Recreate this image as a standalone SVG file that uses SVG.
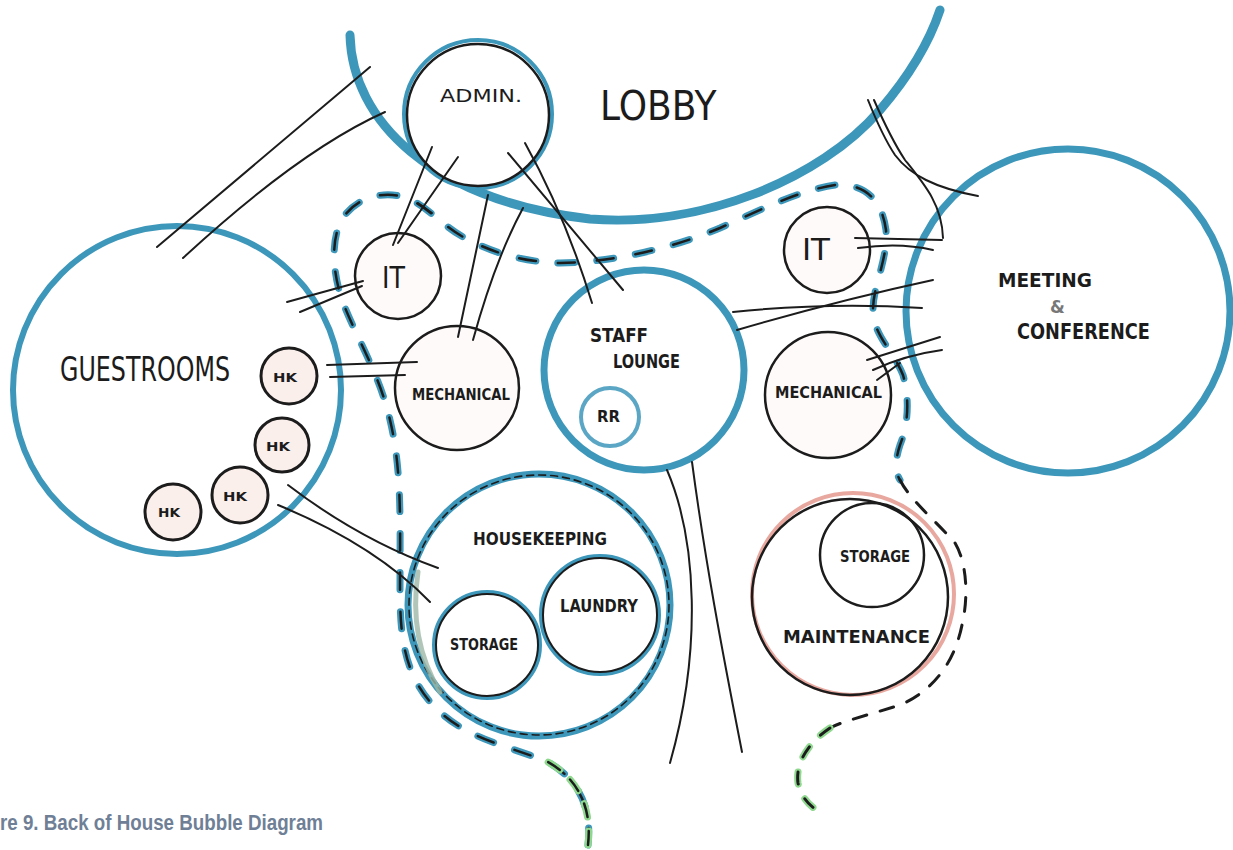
<svg xmlns="http://www.w3.org/2000/svg" width="1233" height="850" viewBox="0 0 1233 850">
<defs>
<style>
.blue{fill:none;stroke:#3d97ba;stroke-linecap:round}
.ink{fill:none;stroke:#1c1c1c;stroke-linecap:round}
.bub{fill:#fefaf9;stroke:#1c1c1c;stroke-width:2.5}
.hk{fill:#fbefeb;stroke:#1c1c1c;stroke-width:3}
.pen{font-family:"DejaVu Sans",sans-serif;fill:#1c1c1c;font-weight:normal}
.mk{font-family:"DejaVu Sans",sans-serif;fill:#1c1c1c;font-weight:bold}
.con path{fill:none;stroke:#1c1c1c;stroke-width:2;stroke-linecap:round}
</style>
</defs>
<rect width="1233" height="850" fill="#ffffff"/>

<g id="zones">
<path class="blue" stroke-width="7" stroke-dasharray="17 22" d="M588,845 C592,810 580,780 548,762 C515,748 470,740 440,712 C405,680 400,640 400,590 C400,520 402,470 390,420 C380,375 355,335 342,300 C332,270 330,235 345,215 C358,198 380,192 400,196 C425,202 440,225 465,238 C495,254 525,262 560,263 C620,262 680,245 720,228 C760,210 800,190 835,185 C865,183 882,200 886,230 C888,260 873,285 873,310 C873,335 893,350 903,375 C910,400 908,425 900,445 C895,460 895,472 900,480"/>
<path class="ink" stroke-width="2.5" stroke-dasharray="17 22" d="M588,845 C592,810 580,780 548,762 C515,748 470,740 440,712 C405,680 400,640 400,590 C400,520 402,470 390,420 C380,375 355,335 342,300 C332,270 330,235 345,215 C358,198 380,192 400,196 C425,202 440,225 465,238 C495,254 525,262 560,263 C620,262 680,245 720,228 C760,210 800,190 835,185 C865,183 882,200 886,230 C888,260 873,285 873,310 C873,335 893,350 903,375 C910,400 908,425 900,445 C895,460 895,472 900,480"/>
<path fill="none" stroke="#8fd98f" stroke-width="7" stroke-linecap="round" stroke-dasharray="14 14" d="M588,845 C592,810 580,780 548,762"/>
<path class="ink" stroke-width="2.5" stroke-dasharray="14 14" d="M588,845 C592,810 580,780 548,762"/>
<path class="ink" stroke-width="3" stroke-dasharray="14 14" d="M900,480 C910,500 935,520 955,543 C968,565 968,600 962,625 C955,660 935,690 900,705 C865,716 840,722 830,728"/>
<path fill="none" stroke="#8fd98f" stroke-width="7" stroke-linecap="round" stroke-dasharray="12 16" d="M830,728 C812,740 795,760 798,783 C802,800 812,808 822,813"/>
<path class="ink" stroke-width="3" stroke-dasharray="12 16" d="M830,728 C812,740 795,760 798,783 C802,800 812,808 822,813"/>
</g>

<g id="lobby">
<path class="blue" stroke-width="9" d="M350,35 C352,120 430,200 590,219 C700,228 820,180 880,110 C910,75 930,40 940,10"/>
<text class="pen" transform="translate(600,120) scale(0.9,1)" font-size="40">LOBBY</text>
</g>

<g id="admin">
<circle class="blue" cx="478" cy="114" r="74" stroke-width="4"/>
<circle cx="478" cy="115" r="71" fill="#ffffff" stroke="#1c1c1c" stroke-width="2.5"/>
<text class="pen" x="440" y="102" font-size="18" textLength="82" lengthAdjust="spacingAndGlyphs">ADMIN.</text>
</g>

<g id="guestrooms">
<circle class="blue" cx="177" cy="390" r="164" stroke-width="6"/>
<text class="pen" transform="translate(60,381) scale(0.7,1)" font-size="34">GUESTROOMS</text>
</g>
<g id="hk1"><circle class="hk" cx="289" cy="376" r="28"/><text class="mk" x="273" y="382" font-size="13" textLength="24" lengthAdjust="spacingAndGlyphs">HK</text></g>
<g id="hk2"><circle class="hk" cx="282" cy="445" r="27"/><text class="mk" x="266" y="451" font-size="13" textLength="24" lengthAdjust="spacingAndGlyphs">HK</text></g>
<g id="hk3"><circle class="hk" cx="240" cy="495" r="28"/><text class="mk" x="223" y="501" font-size="13" textLength="24" lengthAdjust="spacingAndGlyphs">HK</text></g>
<g id="hk4"><circle class="hk" cx="173" cy="512" r="28"/><text class="mk" x="158" y="517" font-size="13" textLength="22" lengthAdjust="spacingAndGlyphs">HK</text></g>

<g id="it-left"><circle class="bub" cx="398" cy="276" r="43"/><text class="pen" x="382" y="288" font-size="30" textLength="23" lengthAdjust="spacingAndGlyphs">IT</text></g>
<g id="mechanical-left"><circle class="bub" cx="457" cy="388" r="62"/><text class="mk" x="412" y="400" font-size="16" textLength="98" lengthAdjust="spacingAndGlyphs">MECHANICAL</text></g>

<g id="staff-lounge">
<circle class="blue" cx="644" cy="370" r="100" stroke-width="7"/>
<text class="mk" x="590" y="342" font-size="20" textLength="58" lengthAdjust="spacingAndGlyphs">STAFF</text>
<text class="mk" x="613" y="368" font-size="19" textLength="67" lengthAdjust="spacingAndGlyphs">LOUNGE</text>
</g>
<g id="rr">
<circle class="blue" cx="610" cy="417" r="29" stroke-width="4" opacity="0.85"/>
<text class="mk" x="597" y="422" font-size="16" textLength="23" lengthAdjust="spacingAndGlyphs">RR</text>
</g>

<g id="it-right"><circle class="bub" cx="827" cy="250" r="43"/><text class="pen" x="802" y="260" font-size="30" textLength="28" lengthAdjust="spacingAndGlyphs">IT</text></g>
<g id="mechanical-right"><circle class="bub" cx="828" cy="395" r="63"/><text class="mk" x="775" y="398" font-size="16" textLength="107" lengthAdjust="spacingAndGlyphs">MECHANICAL</text></g>

<g id="meeting">
<circle class="blue" cx="1068" cy="311" r="162" stroke-width="7"/>
<text class="mk" x="998" y="287" font-size="19" textLength="94" lengthAdjust="spacingAndGlyphs">MEETING</text>
<text class="mk" x="1050" y="313" font-size="17" style="fill:#777">&amp;</text>
<text class="mk" x="1017" y="339" font-size="21" textLength="133" lengthAdjust="spacingAndGlyphs">CONFERENCE</text>
</g>

<g id="housekeeping">
<circle class="blue" cx="539" cy="605" r="131" stroke-width="7"/>
<circle class="ink" cx="539" cy="605" r="130" stroke-width="1.6" stroke-dasharray="7 5"/>
<path fill="none" stroke="#9db8a6" stroke-width="5" stroke-linecap="round" opacity="0.8" d="M418,572 Q408,640 440,692"/>
<text class="mk" x="473" y="545" font-size="18" textLength="134" lengthAdjust="spacingAndGlyphs">HOUSEKEEPING</text>
</g>
<g id="storage-hk">
<circle class="blue" cx="487" cy="645" r="53" stroke-width="4"/>
<circle class="ink" cx="487" cy="645" r="51" stroke-width="2"/>
<text class="mk" x="450" y="650" font-size="16" textLength="68" lengthAdjust="spacingAndGlyphs">STORAGE</text>
</g>
<g id="laundry">
<circle class="blue" cx="600" cy="615" r="59" stroke-width="4"/>
<circle class="ink" cx="600" cy="615" r="57" stroke-width="2"/>
<text class="mk" x="560" y="612" font-size="17" textLength="78" lengthAdjust="spacingAndGlyphs">LAUNDRY</text>
</g>

<g id="maintenance">
<circle cx="853" cy="594" r="101" fill="none" stroke="#e8a89f" stroke-width="4"/>
<circle class="ink" cx="850" cy="597" r="98" stroke-width="2.5"/>
<text class="mk" x="783" y="643" font-size="17" textLength="147" lengthAdjust="spacingAndGlyphs">MAINTENANCE</text>
</g>
<g id="storage-maint">
<circle class="ink" cx="872" cy="555" r="52" stroke-width="2.5"/>
<text class="mk" x="840" y="562" font-size="16" textLength="70" lengthAdjust="spacingAndGlyphs">STORAGE</text>
</g>

<g id="connectors" class="con">
<path d="M157,247 L370,67"/>
<path d="M183,258 Q300,150 385,112"/>
<path d="M287,302 L363,281"/>
<path d="M300,312 L362,286"/>
<path d="M327,365 L417,362"/>
<path d="M330,377 L405,375"/>
<path d="M432,147 L393,245"/>
<path d="M458,157 L398,243"/>
<path d="M418,203 L432,213"/>
<path d="M488,195 L458,337"/>
<path d="M523,208 Q495,260 473,340"/>
<path d="M508,153 L623,290"/>
<path d="M525,143 Q565,215 592,303"/>
<path d="M733,312 Q830,302 922,308"/>
<path d="M737,330 Q840,300 933,280"/>
<path d="M855,238 L942,240"/>
<path d="M858,248 Q900,242 933,250"/>
<path d="M867,360 L940,337"/>
<path d="M873,370 Q905,355 942,350"/>
<path d="M877,380 L900,363"/>
<path d="M288,485 Q360,540 438,568"/>
<path d="M278,505 Q375,545 430,602"/>
<path d="M667,470 C697,540 702,650 670,763"/>
<path d="M692,462 C705,560 722,650 742,752"/>
<path d="M868,100 C878,125 885,140 895,155 C910,175 935,188 978,196"/>
<path d="M874,100 C885,125 895,145 905,160 C925,185 942,205 943,238"/>
</g>

<text x="0" y="830" font-family="'Liberation Sans',Arial,sans-serif" font-weight="bold" font-size="22" fill="#6f8096" textLength="323" lengthAdjust="spacingAndGlyphs">re 9. Back of House Bubble Diagram</text>
</svg>
